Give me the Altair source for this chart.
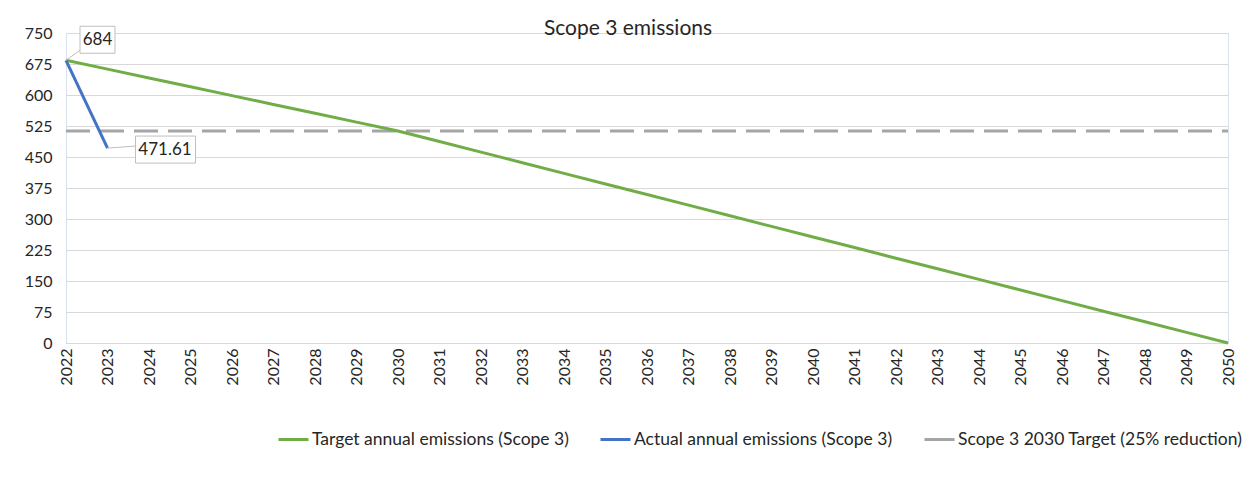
import altair as alt
import pandas as pd

# ---- data ----
years = list(range(2022, 2051))
target = [684, 662.6, 641.3, 619.9, 598.5, 577.1, 555.8, 534.4, 513,
          487.4, 461.7, 436.1, 410.4, 384.8, 359.1, 333.5, 307.8, 282.2, 256.5,
          230.9, 205.2, 179.6, 153.9, 128.3, 102.6, 77, 51.3, 25.7, 0]
actual_years = [2022, 2023]
actual = [684, 471.61]
goal_years = [2022, 2050]
goal = [513, 513]

series_names = ["Target annual emissions (Scope 3)",
                "Actual annual emissions (Scope 3)",
                "Scope 3 2030 Target (25% reduction)"]
colors = ["#70ad47", "#4472c4", "#a5a5a5"]
y_ticks = list(range(0, 751, 75))

label_years = [2022, 2023]
label_values = [684, 471.61]
label_texts = ["684", "471.61"]

FONT = "Lato"
TXT = "#262626"

df_target = pd.DataFrame({"year": years, "value": target, "series": series_names[0]})
df_actual = pd.DataFrame({"year": actual_years, "value": actual, "series": series_names[1]})
df_goal = pd.DataFrame({"year": goal_years, "value": goal, "series": series_names[2]})
df_lab = pd.DataFrame({"year": label_years, "value": label_values, "text": label_texts})

x = alt.X("year:Q",
          scale=alt.Scale(domain=[2022, 2050], nice=False, zero=False),
          axis=alt.Axis(values=years, format="d", labelAngle=270, title=None,
                        grid=False, ticks=False, domainColor="#d9d9d9",
                        labelPadding=5, labelFontSize=16, labelFont=FONT,
                        labelColor=TXT, labelFlush=False, labelOverlap=False))
y = alt.Y("value:Q",
          scale=alt.Scale(domain=[0, 750], nice=False),
          axis=alt.Axis(values=y_ticks, title=None, domain=False, ticks=False,
                        gridColor="#d9d9d9", labelPadding=14, labelFontSize=16,
                        labelFont=FONT, labelColor=TXT, labelFlush=False))
color = alt.Color("series:N",
                  scale=alt.Scale(domain=series_names, range=colors),
                  legend=alt.Legend(title=None, orient="none", direction="horizontal",
                                    legendX=211, legendY=390,
                                    symbolType="stroke", symbolStrokeWidth=3,
                                    symbolSize=900, labelOffset=2,
                                    columnPadding=25, labelLimit=500,
                                    labelFont=FONT, labelFontSize=17.5,
                                    labelColor=TXT))

goal_line = alt.Chart(df_goal).mark_line(strokeWidth=3, strokeDash=[24, 10]).encode(x=x, y=y, color=color)
target_line = alt.Chart(df_target).mark_line(strokeWidth=3).encode(x=x, y=y, color=color)
actual_line = alt.Chart(df_actual).mark_line(strokeWidth=3).encode(x=x, y=y, color=color)

# label callout shapes (pixel units; size=4 -> scale factor 1)
box684 = "M0,0L14,-10M14,-7L49,-7L49,-34L14,-34Z"
box471 = "M0,0L28,-2M28,-12L88,-12L88,15L28,15Z"

b1 = alt.Chart(df_lab.iloc[[0]]).mark_point(shape=box684, size=4, fill="white",
                                            stroke="#bfbfbf", strokeWidth=1,
                                            opacity=1, fillOpacity=1).encode(x=x, y=y)
b2 = alt.Chart(df_lab.iloc[[1]]).mark_point(shape=box471, size=4, fill="white",
                                            stroke="#bfbfbf", strokeWidth=1,
                                            opacity=1, fillOpacity=1).encode(x=x, y=y)
t1 = alt.Chart(df_lab.iloc[[0]]).mark_text(dx=31.5, dy=-20.5, font=FONT, fontSize=17,
                                           color=TXT).encode(x=x, y=y, text="text:N")
t2 = alt.Chart(df_lab.iloc[[1]]).mark_text(dx=57.5, dy=1.5, font=FONT, fontSize=17,
                                           color=TXT).encode(x=x, y=y, text="text:N")

chart = alt.layer(goal_line, target_line, actual_line, b1, b2, t1, t2).properties(
    width=1162, height=310,
    padding={"left": 58, "top": 25, "right": 19, "bottom": 137},
    autosize=alt.AutoSizeParams(type="none"),
    title=alt.Title("Scope 3 emissions", font=FONT, fontSize=21, fontWeight="normal",
                    color=TXT, anchor="middle", dx=-19, offset=-32,
                    baseline="alphabetic"),
).configure_view(stroke="#d9e1f2", strokeWidth=1)

chart.save("out.html", embed_options={"renderer": "svg", "actions": False})
